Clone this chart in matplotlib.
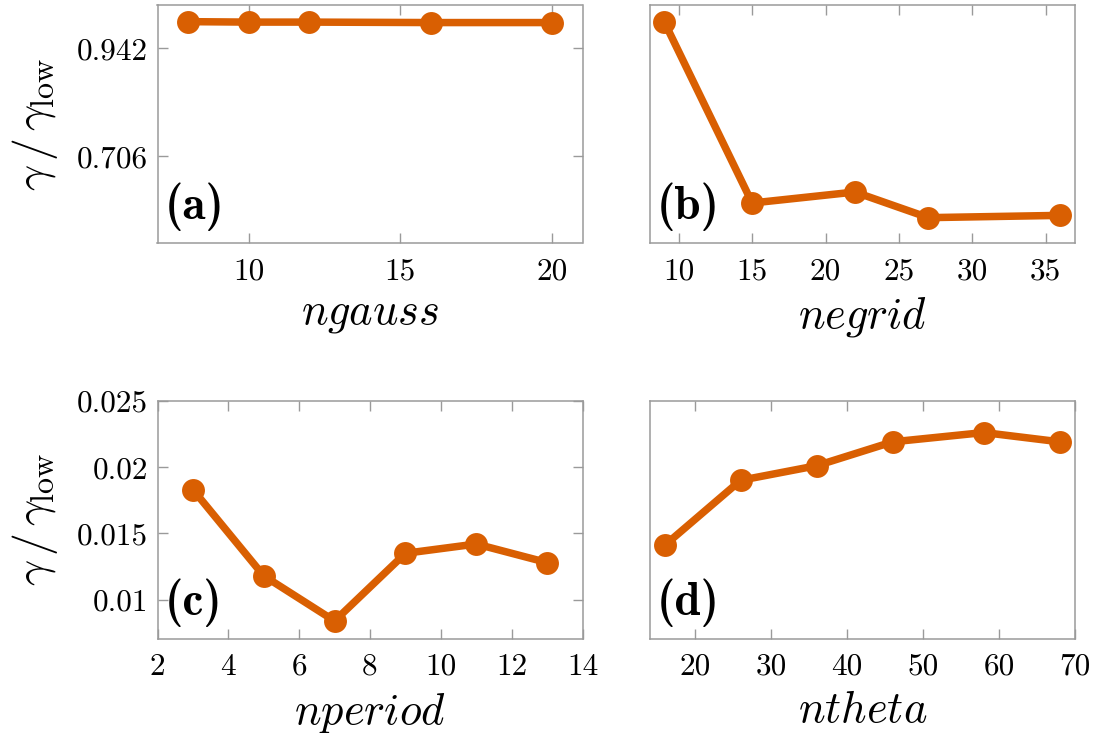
import matplotlib
matplotlib.use("Agg")
import matplotlib.pyplot as plt

# ---- data ----
ngauss = [8, 10, 12, 16, 20]
ratio_a = [1.000, 0.999, 0.999, 0.998, 0.998]

negrid = [9, 15, 22, 27, 36]
ratio_b = [1.000, 0.604, 0.628, 0.572, 0.577]

nperiod = [3, 5, 7, 9, 11, 13]
ratio_c = [0.0183, 0.0118, 0.0084, 0.0135, 0.0142, 0.0128]

ntheta = [16, 26, 36, 46, 58, 68]
ratio_d = [0.0141, 0.0190, 0.0201, 0.0219, 0.0226, 0.0219]

top_yticks = [0.706, 0.942]
top_yticklabels = ["0.706", "0.942"]
bot_yticks = [0.01, 0.015, 0.02, 0.025]
bot_yticklabels = ["0.01", "0.015", "0.02", "0.025"]

xticks_a = [10, 15, 20]
xticks_b = [10, 15, 20, 25, 30, 35]
xticks_c = [2, 4, 6, 8, 10, 12, 14]
xticks_d = [20, 30, 40, 50, 60, 70]

xlabels = ["ngauss", "negrid", "nperiod", "ntheta"]
panel_labels = ["(a)", "(b)", "(c)", "(d)"]
ylabel = r"$\gamma\,/\,\gamma_{\mathrm{low}}$"

# ---- style ----
plt.rcParams["font.family"] = "serif"
plt.rcParams["font.serif"] = ["cmr10", "DejaVu Serif"]
plt.rcParams["mathtext.fontset"] = "cm"
plt.rcParams["axes.unicode_minus"] = False

COLOR = "#d95f02"
SPINE = "#9a9a9a"

fig = plt.figure(figsize=(11.01, 7.38), dpi=100)
W, H = 1101, 738

def make_ax(x0, x1, ytop, ybot):
    return fig.add_axes([x0 / W, 1 - ybot / H, (x1 - x0) / W, (ybot - ytop) / H])

ax_a = make_ax(157.5, 582.5, 4.7, 243.3)
ax_b = make_ax(649.5, 1075.0, 4.7, 243.3)
ax_c = make_ax(157.5, 582.5, 400.7, 639.0)
ax_d = make_ax(649.5, 1075.0, 400.7, 639.0)

axes = [ax_a, ax_b, ax_c, ax_d]
xs = [ngauss, negrid, nperiod, ntheta]
ys = [ratio_a, ratio_b, ratio_c, ratio_d]
xlims = [(7, 21), (8, 37), (2, 14), (14, 70)]
xtick_sets = [xticks_a, xticks_b, xticks_c, xticks_d]

for i, ax in enumerate(axes):
    ax.plot(xs[i], ys[i], color=COLOR, lw=5.4, marker="o", ms=16.5,
            markeredgewidth=0, solid_capstyle="round", clip_on=False, zorder=3)
    ax.set_xlim(*xlims[i])
    ax.set_xticks(xtick_sets[i])
    ax.set_xticklabels([str(t) for t in xtick_sets[i]])
    for sp in ax.spines.values():
        sp.set_color(SPINE)
        sp.set_linewidth(1.1)
    ax.tick_params(axis="both", direction="in", length=7.5, width=1.0,
                   color=SPINE, labelsize=22.5, top=True, right=True)
    ax.tick_params(axis="x", pad=10)
    ax.tick_params(axis="y", pad=7)
    ax.set_xlabel("$" + xlabels[i] + "$", fontsize=32, labelpad=7)
    ax.text(0.016, 0.05, panel_labels[i], transform=ax.transAxes,
            fontsize=34, ha="left", va="bottom", family="cmb10")

for ax in (ax_a, ax_b):
    ax.set_ylim(0.516, 1.037)
for ax in (ax_c, ax_d):
    ax.set_ylim(0.00704, 0.025)

ax_a.set_yticks(top_yticks)
ax_a.set_yticklabels(top_yticklabels)
ax_c.set_yticks(bot_yticks)
ax_c.set_yticklabels(bot_yticklabels)
ax_b.set_yticks([])
ax_d.set_yticks([])

for ax in (ax_a, ax_c):
    ax.set_ylabel(ylabel, fontsize=33, labelpad=12)

fig.savefig("out.png", dpi=100)
